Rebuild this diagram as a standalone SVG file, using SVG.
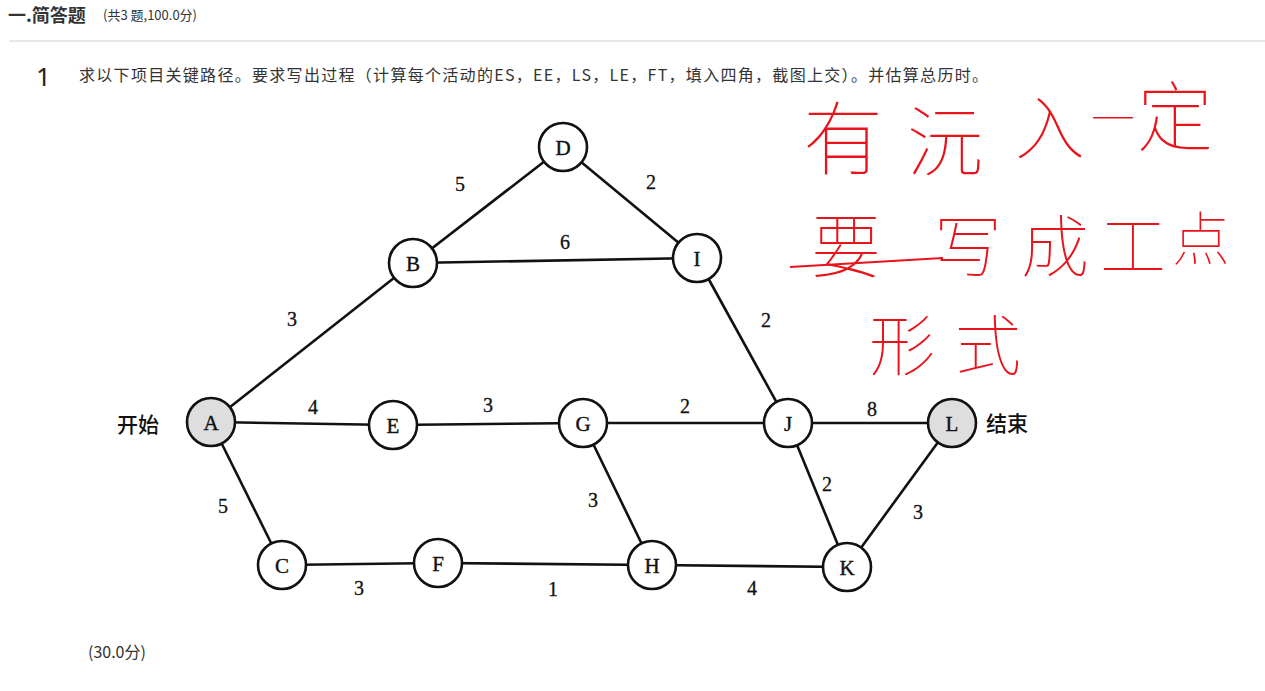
<svg xmlns="http://www.w3.org/2000/svg" width="1265" height="691" viewBox="0 0 1265 691">
<style>
.cn{font-family:"Microsoft YaHei","Noto Sans CJK SC","Noto Sans",sans-serif;fill:#333}
.edge{stroke:#111;stroke-width:2.6;fill:none}
.node circle{fill:#fff;stroke:#111;stroke-width:2.6}
.node.term circle{fill:#dedede}
.node text{font-family:"Liberation Serif",serif;font-size:21px;fill:#111;stroke:#111;stroke-width:0.4;text-anchor:middle}
.w{font-family:"Liberation Serif",serif;font-size:20px;fill:#111;stroke:#111;stroke-width:0.3;text-anchor:middle}
.lab{font-family:"Noto Sans CJK SC",sans-serif;font-size:21px;fill:#111;font-weight:500}
.hw{font-family:"Noto Sans CJK SC",sans-serif;font-weight:100;fill:#e8141c;text-anchor:middle}
</style>
<rect width="1265" height="691" fill="#fff"/>
<g id="header">
<text class="cn" x="8" y="22" font-size="18" font-weight="bold" fill="#222">一.简答题</text>
<text class="cn" x="103" y="20" font-size="13" fill="#555">(共3 题,100.0分)</text>
<line x1="9" y1="41" x2="1265" y2="41" stroke="#d0d0d0" stroke-width="1"/>
<text x="36" y="86" font-family="'Noto Sans','Liberation Sans',sans-serif" font-size="26" fill="#222">1</text>
<text class="cn" x="79" y="81" font-size="16" textLength="909" lengthAdjust="spacing">求以下项目关键路径。要求写出过程（计算每个活动的ES，EE，LS，LE，FT，填入四角，截图上交）。并估算总历时。</text>
<text class="cn" x="88" y="658" font-size="16">(30.0分)</text>
</g>
<g id="connectors">
<line class="edge" x1="211" y1="422" x2="413" y2="263"/>
<line class="edge" x1="413" y1="263" x2="563" y2="147"/>
<line class="edge" x1="413" y1="263" x2="697" y2="258"/>
<line class="edge" x1="563" y1="147" x2="697" y2="258"/>
<line class="edge" x1="697" y1="258" x2="788" y2="423"/>
<line class="edge" x1="211" y1="422" x2="393" y2="425"/>
<line class="edge" x1="393" y1="425" x2="583" y2="423"/>
<line class="edge" x1="583" y1="423" x2="788" y2="423"/>
<line class="edge" x1="788" y1="423" x2="952" y2="423"/>
<line class="edge" x1="211" y1="422" x2="282" y2="565"/>
<line class="edge" x1="282" y1="565" x2="438" y2="563"/>
<line class="edge" x1="438" y1="563" x2="652" y2="565"/>
<line class="edge" x1="583" y1="423" x2="652" y2="565"/>
<line class="edge" x1="652" y1="565" x2="847" y2="567"/>
<line class="edge" x1="788" y1="423" x2="847" y2="567"/>
<line class="edge" x1="847" y1="567" x2="952" y2="423"/>
</g>
<g id="weights">
<text class="w" x="292" y="326">3</text>
<text class="w" x="460" y="191">5</text>
<text class="w" x="565" y="249">6</text>
<text class="w" x="651" y="189">2</text>
<text class="w" x="766" y="327">2</text>
<text class="w" x="313" y="414">4</text>
<text class="w" x="488" y="412">3</text>
<text class="w" x="685" y="413">2</text>
<text class="w" x="872" y="416">8</text>
<text class="w" x="223" y="513">5</text>
<text class="w" x="593" y="507">3</text>
<text class="w" x="359" y="595">3</text>
<text class="w" x="553" y="596">1</text>
<text class="w" x="752" y="595">4</text>
<text class="w" x="827" y="491">2</text>
<text class="w" x="918" y="519">3</text>
</g>
<g id="node-A" class="node term"><circle cx="211" cy="422" r="24"/><text x="211" y="430">A</text></g>
<g id="node-B" class="node"><circle cx="413" cy="263" r="24"/><text x="413" y="271">B</text></g>
<g id="node-C" class="node"><circle cx="282" cy="565" r="24"/><text x="282" y="573">C</text></g>
<g id="node-D" class="node"><circle cx="563" cy="147" r="24"/><text x="563" y="155">D</text></g>
<g id="node-E" class="node"><circle cx="393" cy="425" r="24"/><text x="393" y="433">E</text></g>
<g id="node-F" class="node"><circle cx="438" cy="563" r="24"/><text x="438" y="571">F</text></g>
<g id="node-G" class="node"><circle cx="583" cy="423" r="24"/><text x="583" y="431">G</text></g>
<g id="node-H" class="node"><circle cx="652" cy="565" r="24"/><text x="652" y="573">H</text></g>
<g id="node-I" class="node"><circle cx="697" cy="258" r="24"/><text x="697" y="266">I</text></g>
<g id="node-J" class="node"><circle cx="788" cy="423" r="24"/><text x="788" y="431">J</text></g>
<g id="node-K" class="node"><circle cx="847" cy="567" r="24"/><text x="847" y="575">K</text></g>
<g id="node-L" class="node term"><circle cx="952" cy="423" r="24"/><text x="952" y="431">L</text></g>
<g id="labels">
<text class="lab" x="117" y="432">开始</text>
<text class="lab" x="986" y="431">结束</text>
</g>
<g id="handwriting">
<text class="hw" x="843" y="168" font-size="80">有</text>
<text class="hw" x="945" y="170" font-size="76">沅</text>
<text class="hw" x="1050" y="154" font-size="70">入</text>
<text class="hw" x="1113" y="135" font-size="44">一</text>
<text class="hw" x="1175" y="145" font-size="76">定</text>
<text class="hw" x="846" y="272" font-size="70">要</text>
<line x1="790" y1="267" x2="943" y2="258" stroke="#e8141c" stroke-width="2"/>
<text class="hw" x="968" y="272" font-size="68">写</text>
<text class="hw" x="1055" y="272" font-size="68">成</text>
<text class="hw" x="1133" y="270" font-size="66">工</text>
<text class="hw" x="1201" y="260" font-size="58">点</text>
<text class="hw" x="902" y="370" font-size="66">形</text>
<text class="hw" x="988" y="370" font-size="66">式</text>
</g>
</svg>
